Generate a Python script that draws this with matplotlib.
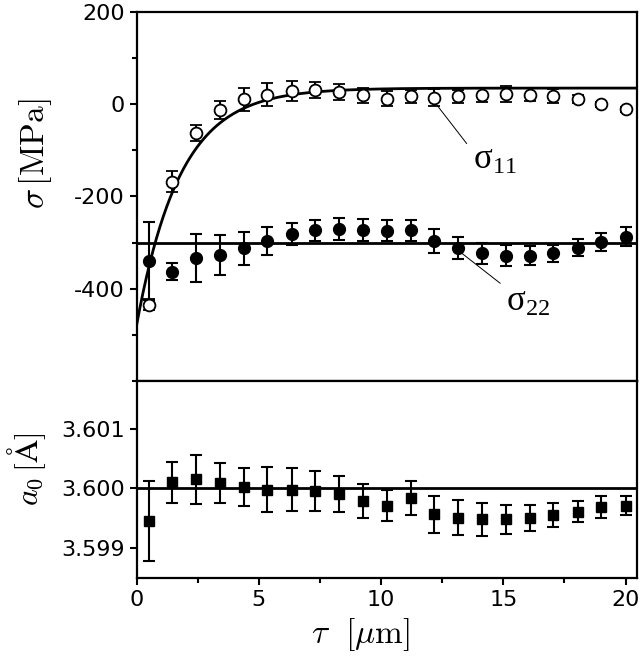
import numpy as np
import matplotlib.pyplot as plt
from matplotlib.ticker import MultipleLocator

plt.rcParams['font.family'] = ['DejaVu Sans']
plt.rcParams['mathtext.fontset'] = 'cm'
plt.rcParams['axes.unicode_minus'] = False

# depth positions (um)
tau = [0.5, 1.46, 2.43, 3.42, 4.38, 5.35, 6.35, 7.30, 8.28, 9.25, 10.23,
       11.21, 12.18, 13.16, 14.14, 15.11, 16.09, 17.05, 18.06, 18.99, 20.01]

# sigma_11 (open circles)
s11 = [-435, -168, -63, -12, 11, 21, 29, 31, 27, 19, 12,
       17, 14, 17, 20, 22, 21, 17, 11, 0, -11]
s11_err = [12, 23, 17, 19, 25, 25, 21, 17, 17, 16, 16,
           14, 18, 14, 15, 17, 14, 15, 9, 5, 5]

# sigma_22 (filled circles)
s22 = [-340, -363, -333, -327, -312, -296, -282, -273, -270, -273, -274,
       -273, -296, -312, -323, -328, -328, -323, -311, -299, -287]
s22_err = [84, 19, 52, 43, 36, 30, 24, 23, 24, 24, 22,
           23, 26, 24, 23, 23, 21, 18, 18, 19, 21]

# lattice parameter a0 (squares)
a0 = [3.59946, 3.60010, 3.60015, 3.60009, 3.60002, 3.59998, 3.59998, 3.59996,
      3.59991, 3.59979, 3.59971, 3.59984, 3.59957, 3.59951, 3.59948, 3.59948,
      3.59950, 3.59956, 3.59961, 3.59969, 3.59971]
a0_err = [0.00067, 0.00035, 0.00041, 0.00034, 0.00032, 0.00038, 0.00036, 0.00033,
          0.00030, 0.00028, 0.00026, 0.00028, 0.00031, 0.00029, 0.00027, 0.00024,
          0.00022, 0.00020, 0.00018, 0.00018, 0.00016]

# fit parameters
s11_inf, s11_amp, s11_len = 35.0, -515.0, 1.78
s22_level = -300
a0_level = 3.6000

fig = plt.figure(figsize=(6.4, 6.58), dpi=100)
ax1 = fig.add_axes([0.2133, 0.4210, 0.78125, 0.5608])
ax2 = fig.add_axes([0.2133, 0.12158, 0.78125, 0.29942])

xmax = 20.45
xf = np.linspace(0, xmax, 300)

# top panel
ax1.plot(xf, s11_inf + s11_amp * np.exp(-xf / s11_len), color='black', lw=2, zorder=2)
ax1.axhline(s22_level, color='black', lw=2, zorder=2)
ax1.errorbar(tau, s11, yerr=s11_err, fmt='o', ms=8.5, mfc='white', mec='black', mew=1.3,
             color='black', ecolor='black', elinewidth=1.5, capsize=4.5, capthick=1.5, zorder=3)
ax1.errorbar(tau, s22, yerr=s22_err, fmt='o', ms=8.5, mfc='black', mec='black',
             color='black', ecolor='black', elinewidth=1.5, capsize=4.5, capthick=1.5, zorder=3)

ax1.set_xlim(0, xmax)
ax1.set_ylim(-600, 200)
ax1.set_yticks([200, 0, -200, -400])
ax1.yaxis.set_minor_locator(MultipleLocator(100))
ax1.tick_params(axis='x', which='both', bottom=False, labelbottom=False)
ax1.set_ylabel(r'$\sigma\,[\mathrm{MPa}]$', fontsize=24)
ax1.yaxis.set_label_coords(-0.165, 0.615)

# labels with leader lines
lbl_font = dict(fontsize=25, family='Liberation Serif', ha='center', va='center')
ax1.plot([12.07, 13.5], [13, -85], color='black', lw=0.7)
ax1.text(14.66, -121, r'$\mathregular{σ_{11}}$', **lbl_font)
ax1.plot([13.23, 14.87], [-320, -388], color='black', lw=0.7)
ax1.text(16.0, -429, r'$\mathregular{σ_{22}}$', **lbl_font)

# bottom panel
ax2.axhline(a0_level, color='black', lw=2, zorder=2)
ax2.errorbar(tau, a0, yerr=a0_err, fmt='s', ms=7, mfc='black', mec='black',
             color='black', ecolor='black', elinewidth=1.5, capsize=4.5, capthick=1.5, zorder=3)
ax2.set_xlim(0, xmax)
ax2.set_ylim(3.5985, 3.6018)
ax2.set_yticks([3.599, 3.600, 3.601])
ax2.set_yticklabels(['3.599', '3.600', '3.601'])
ax2.set_xticks([0, 5, 10, 15, 20])
ax2.xaxis.set_minor_locator(MultipleLocator(2.5))
ax2.set_xlabel(r'$\tau\ \ [\mu\mathrm{m}]$', fontsize=24)
ax2.xaxis.set_label_coords(0.447, -0.195)
ax2.set_ylabel(r'$a_0\,[\mathrm{\AA}]$', fontsize=23)
ax2.yaxis.set_label_coords(-0.178, 0.55)

for ax in (ax1, ax2):
    for sp in ax.spines.values():
        sp.set_linewidth(1.6)
    ax.tick_params(which='major', direction='out', length=5, width=1.5, labelsize=16)
    ax.tick_params(which='minor', direction='out', length=3.3, width=1.5)

fig.savefig('out.png', dpi=100)
